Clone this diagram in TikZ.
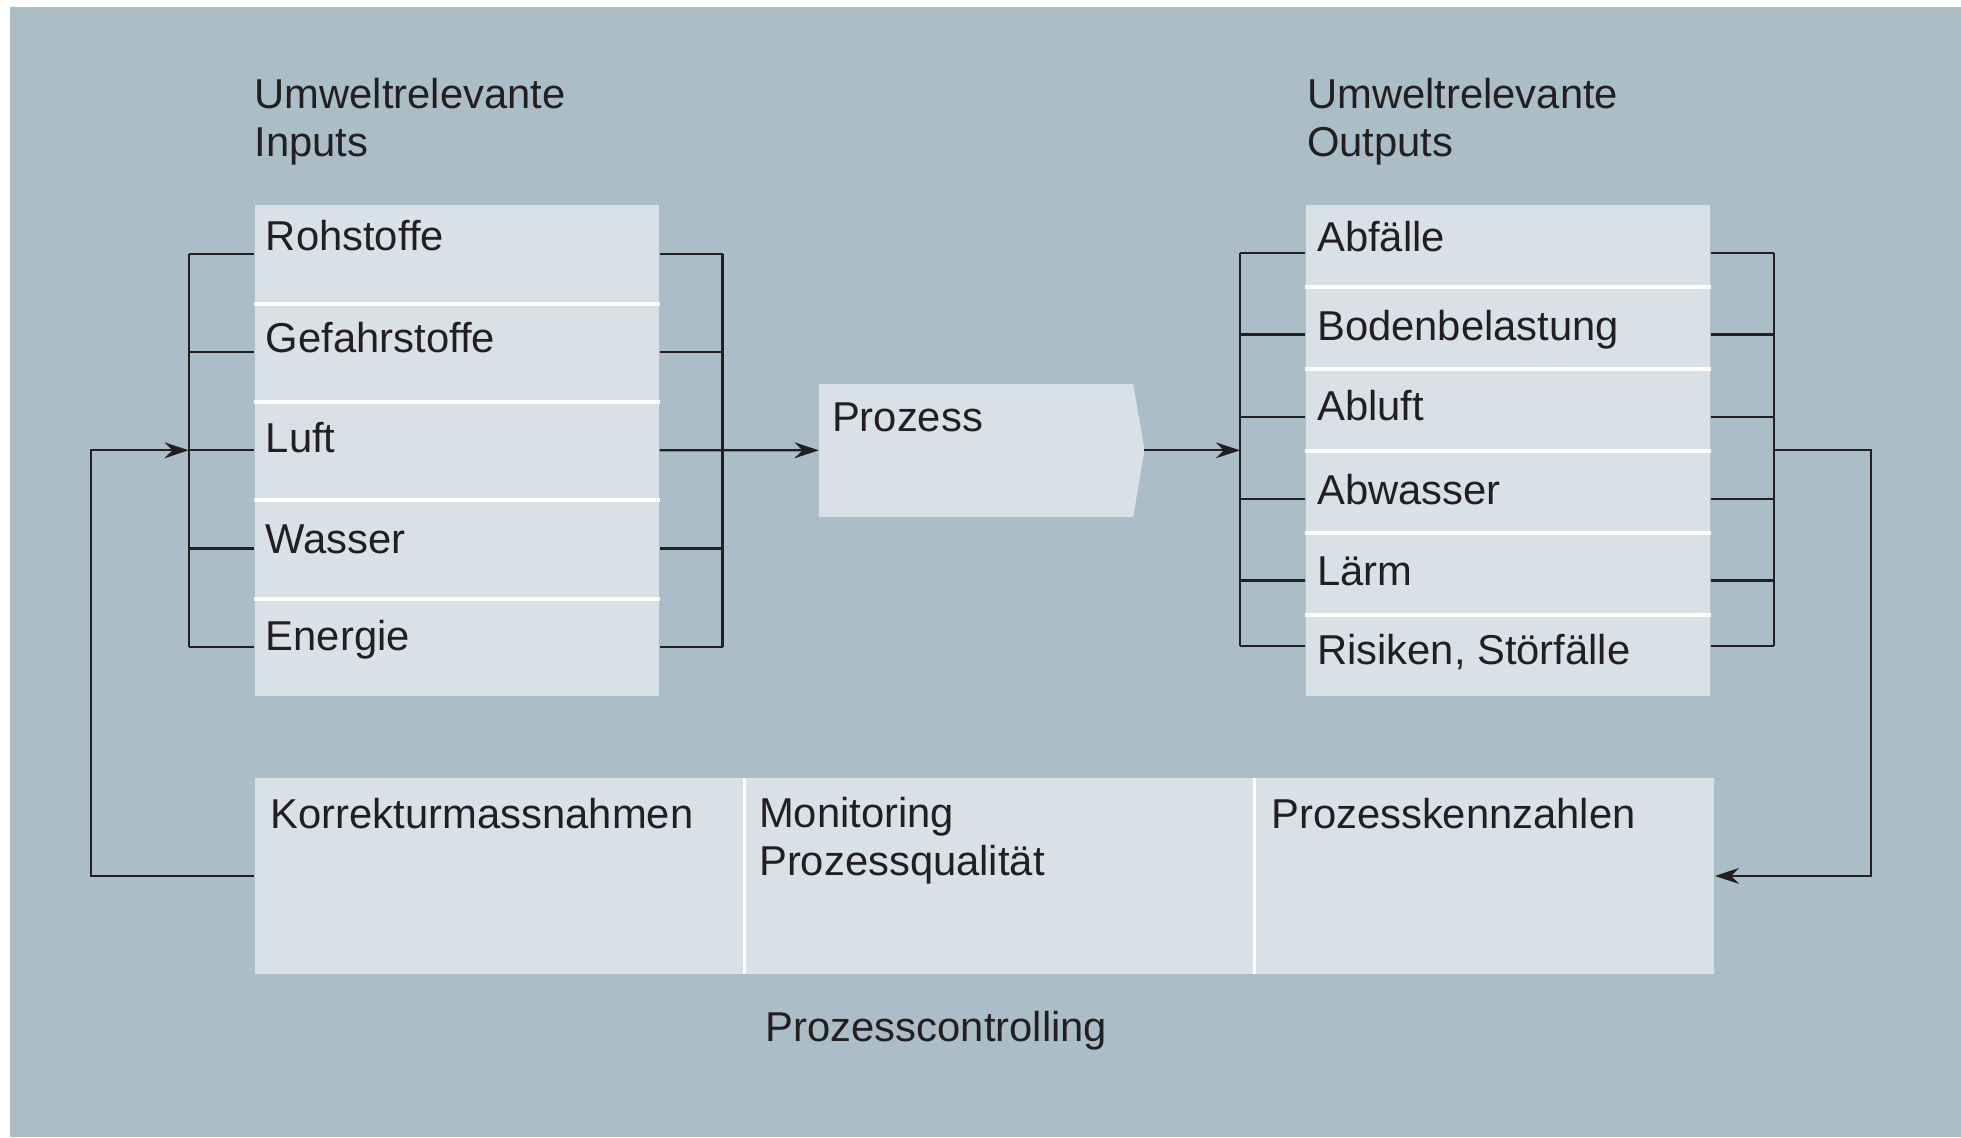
\documentclass[tikz,border=0pt]{standalone}
\usepackage{fontspec}
\setmainfont{Liberation Sans}
\usetikzlibrary{arrows.meta,positioning,calc}
\definecolor{bgblue}{RGB}{171,189,199}
\definecolor{boxgrey}{RGB}{217,225,231}
\definecolor{inkgrey}{RGB}{35,31,32}

\begin{document}
\begin{tikzpicture}[x=0.01cm,y=-0.01cm,font=\fontsize{9.5}{10.8}\selectfont,
	cell/.style={fill=boxgrey,inner sep=0pt,anchor=north west},
	lbl/.style={anchor=base west,inner sep=0pt,text=inkgrey,align=left},
	sep/.style={white,line width=0.9pt},
	wire/.style={inkgrey,line width=0.5pt},
	>={Stealth[length=5.5pt,width=3.6pt,inset=1.8pt]}]

	\useasboundingbox (0,0) rectangle (1568.8,909.6);
	\fill[bgblue] (8,5.6) rectangle (1568.8,909.6);

	% bracket and loop columns
	\coordinate (bl) at (151,0);
	\coordinate (br) at (578,0);
	\coordinate (ol) at (992,0);
	\coordinate (or) at (1419,0);
	\coordinate (lp) at (73,0);
	\coordinate (rp) at (1497,0);

	% two-line labels sit on the baseline of their last line
	\node[lbl] (tin) at (203,125) {Umweltrelevante\\Inputs};
	\node[lbl] (tout) at (1045,125) {Umweltrelevante\\Outputs};

	% inputs
	\foreach \t/\o [count=\n] in {Rohstoffe/37,Gefahrstoffe/40,Luft/42,Wasser/44,Energie/43} {
		\node[cell,minimum width=3.23cm,minimum height=0.786cm] (in\n) at (203,{163+(\n-1)*78.6}) {};
		\node[lbl] (tin\n) at ($(in\n.north west)+(9,\o)$) {\t};
		\draw[wire] (in\n.west) -- (in\n.west -| bl);
		\draw[wire] (in\n.east) -- (in\n.east -| br);
	}
	\foreach \n in {1,...,4}
		\draw[sep] (in\n.south west) -- (in\n.south east);
	\draw[wire] (in1.west -| bl) -- (in5.west -| bl);
	\draw[wire] (in1.east -| br) -- (in5.east -| br);

	% process
	\node[cell,fill=none,minimum width=2.5cm,minimum height=1.05cm] (proz) at (655,307) {};
	\coordinate (ptip) at ($(proz.east)+(9,0)$);
	\fill[boxgrey] (proz.north west) -- (proz.north east) -- (ptip) -- (proz.south east) -- (proz.south west) -- cycle;
	\node[lbl] (tproz) at ($(proz.north west)+(10,38)$) {Prozess};
	\draw[wire,->] (in3.east) -- (proz.west);

	% outputs
	\foreach \t/\o/\k [count=\n] in {Abfälle/38/39.3,Bodenbelastung/44/39.1,Abluft/42/39.5,Abwasser/44/39.5,Lärm/43/39.4,{Risiken, Störfälle}/41/26.3} {
		\node[cell,minimum width=3.23cm,minimum height=0.655cm] (out\n) at (1044,{163+(\n-1)*65.5}) {};
		\node[lbl] (tout\n) at ($(out\n.north west)+(9,\o)$) {\t};
		\coordinate (otl\n) at ($(out\n.north west)+(0,\k)$);
		\coordinate (otr\n) at ($(out\n.north east)+(0,\k)$);
		\draw[wire] (otl\n) -- (otl\n -| ol);
		\draw[wire] (otr\n) -- (otr\n -| or);
	}
	\foreach \n in {1,...,5}
		\draw[sep] (out\n.south west) -- (out\n.south east);
	\draw[wire] (otl1 -| ol) -- (otl6 -| ol);
	\draw[wire] (otr1 -| or) -- (otr6 -| or);
	\draw[wire,->] (ptip) -- (ptip -| ol);

	% controlling
	\node[cell,minimum width=3.91cm,minimum height=1.56cm] (c1) at (203,622) {};
	\node[cell,minimum width=4.06cm,minimum height=1.56cm] (c2) at (c1.north east) {};
	\node[cell,minimum width=3.67cm,minimum height=1.56cm] (c3) at (c2.north east) {};
	\draw[sep,line width=0.7pt] (c1.north east) -- (c1.south east);
	\draw[sep,line width=0.7pt] (c2.north east) -- (c2.south east);
	\node[lbl] (tc1) at ($(c1.north west)+(13,41)$) {Korrekturmassnahmen};
	\node[lbl] (tc2) at ($(c2.north west)+(11,78)$) {Monitoring\\Prozessqualität};
	\node[lbl] (tc3) at ($(c3.north west)+(13,41)$) {Prozesskennzahlen};
	\node[lbl] (tctrl) at (612,833) {Prozesscontrolling};

	% feedback loops
	\draw[wire,->] (c1.west) -- (c1.west -| lp) -- (in3.west -| lp) -- (in3.west -| bl);
	\draw[wire,->] (ptip -| or) -- (ptip -| rp) -- (c3.east -| rp) -- (c3.east);
\end{tikzpicture}
\end{document}
